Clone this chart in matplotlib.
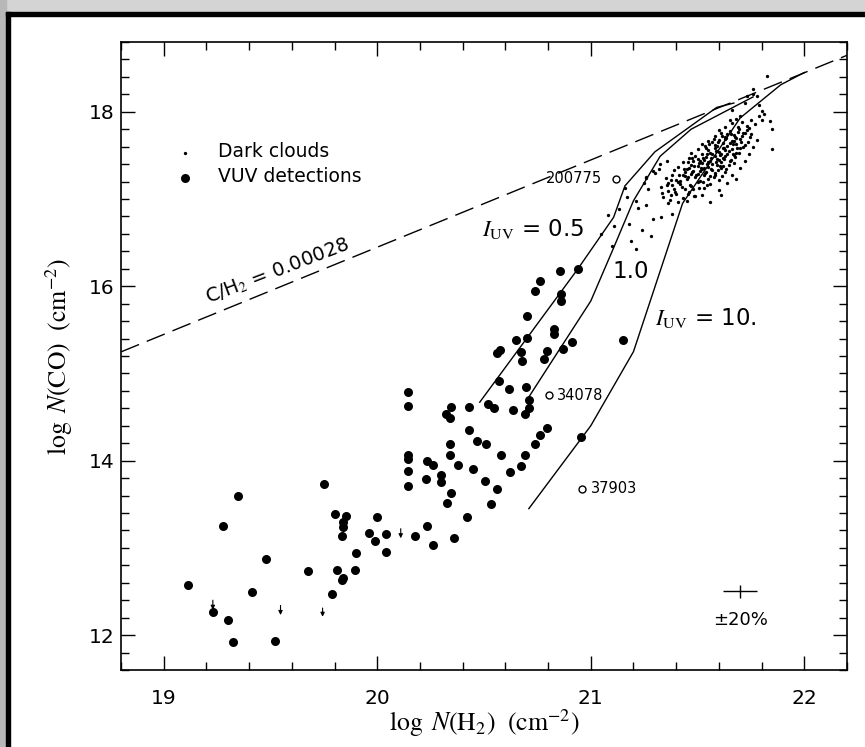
import numpy as np
import matplotlib.pyplot as plt
from matplotlib.patches import Rectangle
from matplotlib.ticker import MultipleLocator

# VUV detections: log N(H2), log N(CO)
vuv_h2 = [20.145, 20.145, 20.145, 20.145, 20.145, 20.145, 19.348, 19.278, 19.75, 19.80,
          19.853, 19.84, 19.84, 19.837, 20.0, 19.96, 19.99, 20.04, 20.04, 19.90,
          19.895, 19.81, 19.677, 19.48, 19.84, 20.177, 20.235, 20.26, 20.36, 20.42,
          20.535, 20.56, 20.505, 20.45, 20.38, 20.34, 20.34, 20.325, 20.345, 20.30,
          20.30, 20.23, 20.235, 20.26, 20.32, 20.34, 20.345, 20.43, 20.43, 20.465,
          20.51, 20.58, 20.62, 20.675, 20.69, 20.74, 20.76, 20.795, 20.52, 20.545,
          20.635, 20.69, 20.71, 20.71, 20.615, 20.57, 20.695, 20.56, 20.575, 20.65,
          20.675, 20.68, 20.70, 20.70, 20.74, 20.76, 20.795, 20.78, 20.857, 20.94,
          20.86, 20.86, 20.83, 20.83, 20.91, 20.87, 21.15, 19.114, 19.23, 19.30,
          19.325, 19.415, 19.52, 19.79, 19.836, 20.955]
vuv_co = [14.79, 14.63, 14.07, 14.02, 13.88, 13.71, 13.60, 13.25, 13.73, 13.39,
          13.37, 13.30, 13.24, 13.14, 13.35, 13.17, 13.08, 13.16, 12.95, 12.94,
          12.75, 12.75, 12.74, 12.87, 12.65, 13.14, 13.25, 13.03, 13.11, 13.35,
          13.50, 13.68, 13.77, 13.90, 13.95, 14.07, 14.19, 13.51, 13.63, 13.83,
          13.76, 13.79, 14.00, 13.95, 14.54, 14.49, 14.62, 14.61, 14.35, 14.23,
          14.19, 14.07, 13.87, 13.94, 14.07, 14.19, 14.29, 14.38, 14.65, 14.60,
          14.58, 14.53, 14.60, 14.70, 14.82, 14.91, 14.84, 15.23, 15.27, 15.38,
          15.25, 15.14, 15.41, 15.66, 15.94, 16.06, 15.26, 15.17, 16.17, 16.20,
          15.91, 15.83, 15.51, 15.45, 15.36, 15.28, 15.38, 12.58, 12.26, 12.17,
          11.92, 12.49, 11.93, 12.47, 12.63, 14.27]

# upper limits (arrow tail -> head)
lim_h2 = [19.23, 19.547, 19.744, 20.11]
lim_top = [12.40, 12.34, 12.31, 13.22]
lim_bot = [12.29, 12.23, 12.21, 13.11]

# dark clouds
dark_h2 = [21.16, 21.17, 21.21, 21.22, 21.18, 21.11, 21.10, 21.21, 21.28, 21.26,
           21.27, 21.26, 21.30, 21.32, 21.29, 21.33, 21.38, 21.36, 21.08, 21.05,
           21.13, 21.24, 21.19, 21.25, 21.26, 21.29, 21.325, 21.356,
           21.825, 21.76, 21.78, 21.80, 21.81, 21.80, 21.84, 21.85, 21.85, 21.68,
           21.61, 21.56, 21.73, 21.76, 21.79, 21.79, 21.72, 21.66,
           21.34, 21.37, 21.40, 21.43, 21.46, 21.49, 21.41, 21.36, 21.52, 21.45,
           21.33, 21.36, 21.39, 21.42, 21.44, 21.47, 21.50, 21.53, 21.56, 21.38,
           21.48, 21.41, 21.35, 21.38, 21.40, 21.43, 21.45, 21.47, 21.49, 21.51,
           21.53, 21.55, 21.58, 21.60, 21.44, 21.50, 21.56, 21.42, 21.39, 21.41,
           21.44, 21.46, 21.48, 21.50, 21.52, 21.54, 21.55, 21.57, 21.59, 21.61,
           21.63, 21.47, 21.53, 21.58, 21.62, 21.45, 21.51, 21.43, 21.46, 21.48,
           21.50, 21.52, 21.54, 21.56, 21.57, 21.59, 21.61, 21.63, 21.65, 21.67,
           21.49, 21.53, 21.58, 21.60, 21.55, 21.62, 21.51, 21.47, 21.50, 21.52,
           21.55, 21.57, 21.58, 21.60, 21.62, 21.64, 21.66, 21.68, 21.70, 21.54,
           21.59, 21.63, 21.67, 21.56, 21.61, 21.52, 21.55, 21.58, 21.60, 21.62,
           21.64, 21.66, 21.68, 21.70, 21.72, 21.57, 21.63, 21.67, 21.59, 21.65,
           21.58, 21.61, 21.63, 21.65, 21.67, 21.69, 21.71, 21.73, 21.75, 21.64,
           21.68, 21.72, 21.60, 21.63, 21.66, 21.69, 21.71, 21.73, 21.75, 21.77,
           21.68, 21.74, 21.70, 21.65, 21.60, 21.64, 21.66, 21.70, 21.72, 21.74,
           21.76, 21.78,
           21.455, 21.475, 21.495, 21.515, 21.535, 21.545, 21.565, 21.585, 21.605, 21.625,
           21.645, 21.665, 21.485, 21.505, 21.525, 21.545, 21.565, 21.585, 21.605, 21.625,
           21.645, 21.665, 21.685, 21.705, 21.535, 21.555, 21.575, 21.595, 21.615, 21.635,
           21.655, 21.675, 21.695, 21.715, 21.465, 21.425, 21.395, 21.375, 21.415, 21.435,
           21.455, 21.475, 21.375, 21.355, 21.335, 21.575, 21.595, 21.615, 21.635, 21.655,
           21.675, 21.695, 21.715, 21.735, 21.745, 21.525, 21.505, 21.545, 21.485, 21.455]
dark_co = [17.13, 17.02, 16.98, 16.90, 16.71, 16.69, 16.46, 16.43, 16.58, 16.93,
           17.11, 17.24, 17.30, 17.34, 16.77, 16.79, 16.83, 16.95, 16.82, 16.60,
           16.88, 16.64, 16.52, 17.18, 17.25, 17.32, 17.40, 17.44,
           18.41, 18.20, 18.18, 18.01, 17.97, 17.91, 17.89, 17.80, 17.57, 17.23,
           17.04, 16.96, 18.18, 18.26, 18.08, 17.95, 18.10, 18.02,
           17.02, 16.99, 17.06, 17.01, 17.08, 17.03, 16.97, 17.09, 17.05, 16.98,
           17.14, 17.18, 17.12, 17.17, 17.11, 17.15, 17.19, 17.13, 17.17, 17.16,
           17.12, 17.20, 17.24, 17.27, 17.22, 17.28, 17.23, 17.29, 17.25, 17.21,
           17.27, 17.23, 17.28, 17.22, 17.26, 17.29, 17.26, 17.21, 17.33, 17.37,
           17.31, 17.36, 17.32, 17.38, 17.34, 17.31, 17.37, 17.33, 17.39, 17.35,
           17.31, 17.39, 17.36, 17.30, 17.38, 17.34, 17.32, 17.42, 17.47, 17.43,
           17.46, 17.41, 17.48, 17.44, 17.40, 17.46, 17.42, 17.49, 17.44, 17.41,
           17.49, 17.45, 17.49, 17.45, 17.42, 17.47, 17.43, 17.53, 17.57, 17.52,
           17.56, 17.51, 17.58, 17.54, 17.59, 17.52, 17.57, 17.53, 17.58, 17.59,
           17.55, 17.56, 17.50, 17.53, 17.51, 17.63, 17.67, 17.62, 17.68, 17.64,
           17.61, 17.66, 17.63, 17.69, 17.62, 17.65, 17.69, 17.67, 17.61, 17.64,
           17.72, 17.76, 17.71, 17.78, 17.73, 17.77, 17.72, 17.79, 17.74, 17.75,
           17.70, 17.76, 17.79, 17.83, 17.87, 17.82, 17.88, 17.84, 17.91, 17.86,
           17.92, 17.81, 17.95, 17.90, 17.10, 17.18, 17.28, 17.35, 17.44, 17.52,
           17.60, 17.68,
           17.255, 17.305, 17.275, 17.355, 17.295, 17.405, 17.345, 17.425, 17.375, 17.455,
           17.395, 17.515, 17.375, 17.415, 17.465, 17.515, 17.475, 17.545, 17.505, 17.585,
           17.545, 17.625, 17.585, 17.655, 17.605, 17.635, 17.685, 17.655, 17.725, 17.695,
           17.745, 17.705, 17.805, 17.755, 17.165, 17.135, 17.085, 17.045, 17.275, 17.345,
           17.425, 17.465, 17.215, 17.155, 17.065, 17.255, 17.335, 17.265, 17.345, 17.445,
           17.485, 17.525, 17.595, 17.655, 17.715, 17.195, 17.125, 17.155, 17.035, 17.055]

# open circles with HD numbers
hd_h2 = [21.117, 20.805, 20.96]
hd_co = [17.23, 14.75, 13.68]
hd_names = ['200775', '34078', '37903']

# model curves for I_UV = 0.5, 1.0, 10
m05_h2 = [20.48, 20.94, 21.107, 21.16, 21.30, 21.59, 21.67]
m05_co = [14.67, 16.20, 16.79, 17.15, 17.54, 18.05, 18.10]
m1_h2 = [20.71, 20.81, 21.00, 21.107, 21.20, 21.325, 21.47, 21.76]
m1_co = [14.73, 15.11, 15.83, 16.44, 16.98, 17.49, 17.80, 18.17]
m10_h2 = [20.71, 21.00, 21.20, 21.43, 21.70, 21.89, 22.00]
m10_co = [13.45, 14.40, 15.25, 16.95, 17.93, 18.31, 18.45]

# C/H2 line
ratio = 0.00028
line_h2 = np.array([18.8, 22.2])

plt.rcParams['font.family'] = 'DejaVu Sans'
plt.rcParams['mathtext.fontset'] = 'stix'

fig = plt.figure(figsize=(8.65, 7.47), dpi=100)
ax = fig.add_axes([0.1399, 0.1031, 0.8393, 0.8407])

# screenshot frame
fig.patches.append(Rectangle((0, 1 - 12 / 747), 1, 12 / 747, transform=fig.transFigure,
                             color='#d4d4d4', zorder=-5))
fig.patches.append(Rectangle((0, 0), 6 / 865, 1, transform=fig.transFigure,
                             color='#b8b8b8', zorder=-5))
fig.patches.append(Rectangle((6 / 865, 0), 4 / 865, 1 - 12 / 747, transform=fig.transFigure,
                             color='black', zorder=-4))
fig.patches.append(Rectangle((6 / 865, 1 - 16 / 747), 1, 4 / 747, transform=fig.transFigure,
                             color='black', zorder=-4))

ax.plot(line_h2, line_h2 + np.log10(ratio), color='black', lw=1.0, dashes=(14, 6))
for xs, ys in [(m05_h2, m05_co), (m1_h2, m1_co), (m10_h2, m10_co)]:
    ax.plot(xs, ys, color='black', lw=1.0)

ax.plot(dark_h2, dark_co, 'o', color='black', ms=2.4, mew=0)
ax.plot(vuv_h2, vuv_co, 'o', color='black', ms=6.5, mew=0)
ax.plot(hd_h2, hd_co, 'o', mfc='white', mec='black', ms=5, mew=1)

for x, y0, y1 in zip(lim_h2, lim_top, lim_bot):
    ax.annotate('', xy=(x, y1), xytext=(x, y0),
                arrowprops=dict(arrowstyle='-|>', color='black', lw=0.8,
                                mutation_scale=6, shrinkA=0, shrinkB=0))

ax.text(21.053, 17.23, hd_names[0], ha='right', va='center', fontsize=10.5)
ax.text(20.84, 14.75, hd_names[1], ha='left', va='center', fontsize=10.5)
ax.text(21.0, 13.68, hd_names[2], ha='left', va='center', fontsize=10.5)

# legend
ax.plot([19.1], [17.53], 'o', color='black', ms=2.4, mew=0)
ax.plot([19.1], [17.24], 'o', color='black', ms=6.5, mew=0)
ax.text(19.253, 17.55, 'Dark clouds', ha='left', va='center', fontsize=13.5)
ax.text(19.253, 17.26, 'VUV detections', ha='left', va='center', fontsize=13.5)

ax.text(19.535, 16.17, r'C/H$_2$ = 0.00028', ha='center', va='center', rotation=21,
        fontsize=14)
ax.text(20.73, 16.66, r'$I_{\rm UV}$ = 0.5', ha='center', va='center', fontsize=16.5)
ax.text(21.185, 16.17, '1.0', ha='center', va='center', fontsize=16.5)
ax.text(21.54, 15.64, r'$I_{\rm UV}$ = 10.', ha='center', va='center', fontsize=16.5)

# error bar
ax.errorbar([21.70], [12.50], xerr=np.log10(1.2), yerr=np.log10(1.2), color='black',
            lw=1.0, capsize=0)
ax.text(21.70, 12.17, '\u00b120%', ha='center', va='center', fontsize=13)

ax.set_xlim(18.8, 22.2)
ax.set_ylim(11.6, 18.8)
ax.xaxis.set_major_locator(MultipleLocator(1))
ax.xaxis.set_minor_locator(MultipleLocator(0.2))
ax.yaxis.set_major_locator(MultipleLocator(2))
ax.yaxis.set_minor_locator(MultipleLocator(0.2))
ax.tick_params(which='both', direction='in', top=True, right=True, width=1.0,
               labelsize=14.5)
ax.tick_params(axis='x', pad=14)
ax.tick_params(axis='y', pad=5)
ax.tick_params(which='major', length=10)
ax.tick_params(which='minor', length=6)
for s in ax.spines.values():
    s.set_linewidth(1.2)

ax.set_xlabel(r'$\log\ N({\rm H}_2)\ \ ({\rm cm}^{-2})$', fontsize=18.5, labelpad=-1)
ax.set_ylabel(r'$\log\ N({\rm CO})\ \ ({\rm cm}^{-2})$', fontsize=18.5)
ax.yaxis.set_label_coords(-0.0634, 0.5)

fig.savefig('out.png', dpi=100)
